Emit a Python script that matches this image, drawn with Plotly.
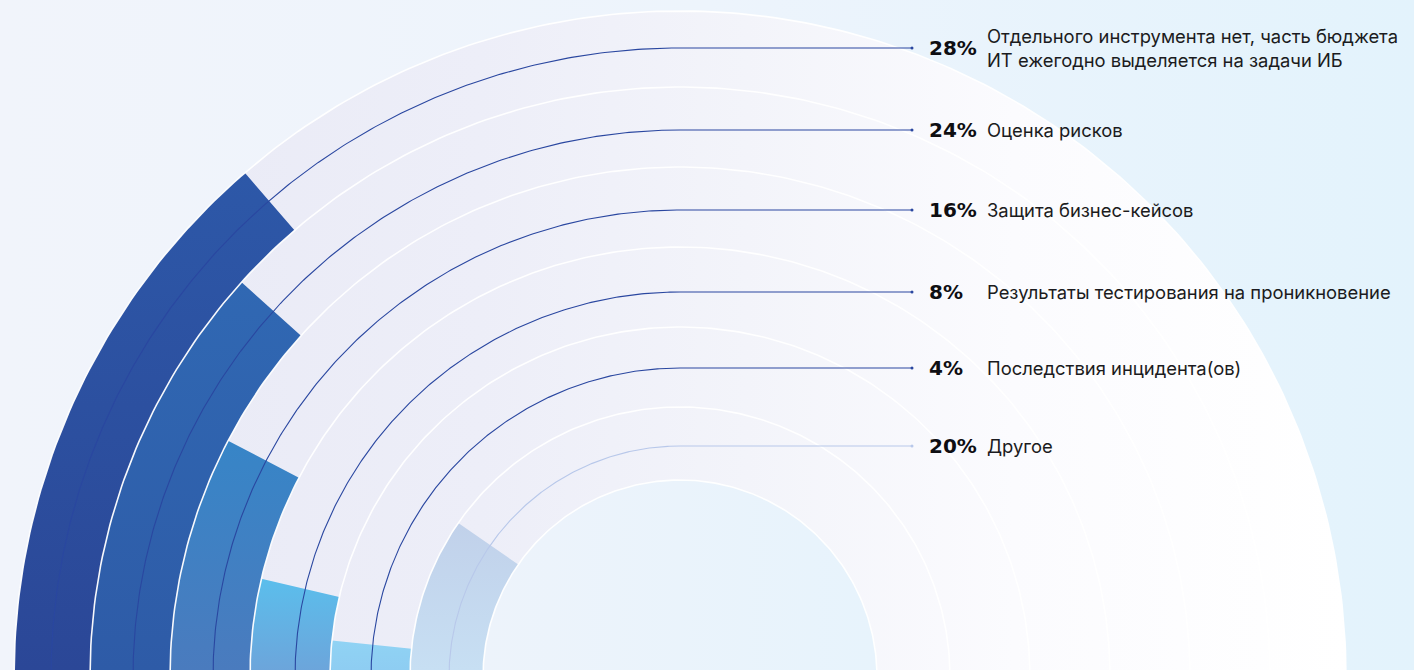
import numpy as np
import plotly.graph_objects as go

# ---- data -------------------------------------------------------------
categories = [
    "Отдельного инструмента нет, часть бюджета<br>ИТ ежегодно выделяется на задачи ИБ",
    "Оценка рисков",
    "Защита бизнес-кейсов",
    "Результаты тестирования на проникновение",
    "Последствия инцидента(ов)",
    "Другое",
]
shares = [28, 24, 16, 8, 4, 20]

# ---- styling ----------------------------------------------------------
ring_edges = [666, 590, 510, 430, 350, 270, 197]   # outer edge of each ring, last = hole
leader_radii = [629, 547, 467, 385, 309, 231]       # leader arcs run inside each ring
start_deg = 181.2                                   # bars start just under the horizontal
bar_colors = [
    ("#2B4797", "#2D58A8"),
    ("#2E5BA7", "#3068B3"),
    ("#4A7BBE", "#3785C7"),
    ("#6CA5DB", "#5BBEEC"),
    ("#8ECDF2", "#90D3F4"),
    ("#C7DFF3", "#C1D1EA"),
]
leader_colors = ["#2A47A0"] * 5 + ["#B8C8EA"]
W, H = 1414, 670
cx, cy = 680, 677           # centre of the rings, in page pixels
x_end = 232                 # leader end, relative to centre
x_pct, x_txt = 247, 305

X0, X1 = -cx, W - cx
Y0, Y1 = cy - H, cy


def arc(r, a0, a1, n=240):
    t = np.radians(np.linspace(a0, a1, n))
    return r * np.cos(t), r * np.sin(t)


def sector(r_in, r_out, a0, a1, n=240):
    xo, yo = arc(r_out, a0, a1, n)
    xi, yi = arc(r_in, a1, a0, n)
    return np.r_[xo, xi, xo[0]], np.r_[yo, yi, yo[0]]


fig = go.Figure()

# page background
fig.add_trace(go.Scatter(
    x=[X0, X1, X1, X0, X0], y=[Y0, Y0, Y1, Y1, Y0], mode="lines",
    line=dict(width=0), fill="toself", hoverinfo="skip",
    fillgradient=dict(type="horizontal", start=X0, stop=X1,
                      colorscale=[[0, "#F1F4FB"], [0.5, "#EDF4FC"], [1, "#E3F3FC"]]),
))

# track area behind the bars
tx, ty = sector(ring_edges[-1], ring_edges[0], -4, 184)
fig.add_trace(go.Scatter(
    x=tx, y=ty, mode="lines", line=dict(width=0), fill="toself", hoverinfo="skip",
    fillgradient=dict(type="horizontal", start=-ring_edges[0], stop=ring_edges[0],
                      colorscale=[[0, "#E8E9F5"], [0.35, "#EDEEF8"], [0.55, "#F3F4FA"],
                                  [0.75, "#FBFBFE"], [1, "#FFFFFF"]]),
))

# inner hole
hx, hy = arc(ring_edges[-1], -4, 184)
fig.add_trace(go.Scatter(
    x=np.r_[hx, hx[0]], y=np.r_[hy, hy[0]], mode="lines", line=dict(width=0),
    fill="toself", hoverinfo="skip",
    fillgradient=dict(type="horizontal", start=-ring_edges[-1], stop=ring_edges[-1],
                      colorscale=[[0, "#EDF3FB"], [1, "#E7F3FC"]]),
))

# bars: sweep of value/100 of the half circle, clockwise from the left
for i, v in enumerate(shares):
    r_out, r_in = ring_edges[i], ring_edges[i + 1]
    a1 = start_deg - v / 100 * 180
    bx, by = sector(r_in, r_out, start_deg, a1)
    c_bot, c_top = bar_colors[i]
    fig.add_trace(go.Scatter(
        x=bx, y=by, mode="lines", line=dict(width=0), fill="toself",
        hoverinfo="skip",
        fillgradient=dict(type="vertical", start=Y0, stop=float(by.max()),
                          colorscale=[[0, c_bot], [1, c_top]]),
    ))

# white separators between rings
for r in ring_edges:
    sx, sy = arc(r, -4, 184)
    fig.add_trace(go.Scatter(x=sx, y=sy, mode="lines", hoverinfo="skip",
                             line=dict(color="rgba(255,255,255,0.95)", width=1.6)))

# leader lines: arc inside each ring, then straight out to the label
for i, v in enumerate(shares):
    r = leader_radii[i]
    lx, ly = arc(r, start_deg, 90)
    lx = np.r_[lx, x_end]
    ly = np.r_[ly, r]
    fig.add_trace(go.Scatter(x=lx, y=ly, mode="lines", hoverinfo="skip",
                             line=dict(color=leader_colors[i], width=1.1)))
    fig.add_trace(go.Scatter(x=[x_end], y=[r], mode="markers", hoverinfo="skip",
                             marker=dict(color=leader_colors[i], size=3)))
    fig.add_annotation(x=x_pct, y=r, xref="x", yref="y", text=f"<b>{v}%</b>",
                       showarrow=False, xanchor="left", yanchor="middle",
                       font=dict(family="DejaVu Sans", size=20, color="#0E0E12"))
    fig.add_annotation(x=x_txt, y=r, xref="x", yref="y", text=categories[i],
                       showarrow=False, xanchor="left", yanchor="middle", align="left",
                       font=dict(family="Inter", size=18.4, color="#1B1B20"))

fig.update_layout(
    width=W, height=H, margin=dict(l=0, r=0, t=0, b=0),
    paper_bgcolor="#EEF4FC", plot_bgcolor="rgba(0,0,0,0)",
    showlegend=False,
    xaxis=dict(range=[X0, X1], visible=False, fixedrange=True),
    yaxis=dict(range=[Y0, Y1], visible=False, fixedrange=True),
)

fig.write_html("out.html", config={"displayModeBar": False})
